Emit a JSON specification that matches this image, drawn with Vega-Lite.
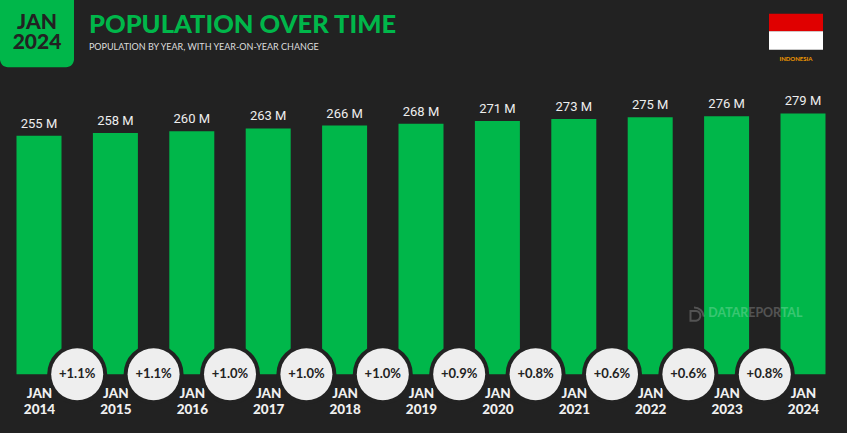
{"$schema":"https://vega.github.io/schema/vega-lite/v6.json","width":847,"height":375,"autosize":"none","padding":{"left":0,"top":0,"right":0,"bottom":58},"background":"#222222","config":{"view":{"stroke":null},"text":{"font":"Lato"}},
"datasets":{"pop":[
{"year":2014,"population":255,"label":"255 M","next":2014.5,"change":"+1.1%"},
{"year":2015,"population":258,"label":"258 M","next":2015.5,"change":"+1.1%"},
{"year":2016,"population":260,"label":"260 M","next":2016.5,"change":"+1.0%"},
{"year":2017,"population":263,"label":"263 M","next":2017.5,"change":"+1.0%"},
{"year":2018,"population":266,"label":"266 M","next":2018.5,"change":"+1.0%"},
{"year":2019,"population":268,"label":"268 M","next":2019.5,"change":"+0.9%"},
{"year":2020,"population":271,"label":"271 M","next":2020.5,"change":"+0.8%"},
{"year":2021,"population":273,"label":"273 M","next":2021.5,"change":"+0.6%"},
{"year":2022,"population":275,"label":"275 M","next":2022.5,"change":"+0.6%"},
{"year":2023,"population":276,"label":"276 M","next":2023.5,"change":"+0.8%"},
{"year":2024,"population":279,"label":"279 M"}]},
"layer":[
{"data":{"name":"pop"},"mark":{"type":"bar","size":45,"color":"#00B74A"},"encoding":{"x":{"field":"year","type":"quantitative","title":null,"scale":{"domain":[2013.4895,2024.576],"nice":false,"zero":false,"padding":0},"axis":{"values":[2014,2015,2016,2017,2018,2019,2020,2021,2022,2023,2024],"labelExpr":"['JAN', '' + datum.value]","labelFont":"Lato","labelFontWeight":900,"labelFontSize":13.5,"labelColor":"#f0f0f0","labelLineHeight":16,"labelPadding":11,"labelBaseline":"top","labelFlush":false,"labelOverlap":false,"domain":false,"ticks":false,"grid":false}},"y":{"field":"population","type":"quantitative","title":null,"scale":{"domain":[-0.75,400.3],"nice":false,"zero":false,"padding":0},"axis":null}}},
{"data":{"name":"pop"},"mark":{"type":"text","font":"Roboto","fontSize":13,"color":"#eeeeee","baseline":"bottom","dy":-5},"encoding":{"x":{"field":"year","type":"quantitative"},"y":{"field":"population","type":"quantitative"},"text":{"field":"label"}}},
{"data":{"name":"pop"},"transform":[{"filter":"datum.next"}],"mark":{"type":"point","filled":true,"color":"#222222","size":3600,"opacity":1},"encoding":{"x":{"field":"next","type":"quantitative"},"y":{"datum":0,"type":"quantitative"}}},
{"data":{"name":"pop"},"transform":[{"filter":"datum.next"}],"mark":{"type":"point","filled":true,"color":"#EEEEEE","size":2704,"opacity":1},"encoding":{"x":{"field":"next","type":"quantitative"},"y":{"datum":0,"type":"quantitative"}}},
{"data":{"name":"pop"},"transform":[{"filter":"datum.next"}],"mark":{"type":"text","fontSize":13,"fontWeight":"bold","color":"#222222"},"encoding":{"x":{"field":"next","type":"quantitative"},"y":{"datum":0,"type":"quantitative"},"text":{"field":"change"}}},
{"data":{"values":[{"x0":2013.4895,"x1":2014.458,"y0":328.3,"y1":425}]},"mark":{"type":"rect","color":"#00B74A","cornerRadius":8},"encoding":{"x":{"field":"x0","type":"quantitative"},"x2":{"field":"x1"},"y":{"field":"y0","type":"quantitative"},"y2":{"field":"y1"}}},
{"data":{"values":[{"x":2013.974,"y":369,"text":"JAN"},{"x":2013.974,"y":347.6,"text":"2024"}]},"mark":{"type":"text","fontSize":21,"fontWeight":900,"color":"#222222","baseline":"alphabetic"},"encoding":{"x":{"field":"x","type":"quantitative"},"y":{"field":"y","type":"quantitative"},"text":{"field":"text"}}},
{"data":{"values":[{"x":2014.654,"y":364.7,"text":"POPULATION OVER TIME"}]},"mark":{"type":"text","fontSize":25.5,"fontWeight":900,"color":"#00B74A","align":"left","baseline":"alphabetic"},"encoding":{"x":{"field":"x","type":"quantitative"},"y":{"field":"y","type":"quantitative"},"text":{"field":"text"}}},
{"data":{"values":[{"x":2014.654,"y":346.5,"text":"POPULATION BY YEAR, WITH YEAR-ON-YEAR CHANGE"}]},"mark":{"type":"text","fontSize":9,"color":"#dddddd","align":"left","baseline":"alphabetic"},"encoding":{"x":{"field":"x","type":"quantitative"},"y":{"field":"y","type":"quantitative"},"text":{"field":"text"}}},
{"data":{"values":[{"x0":2023.555,"x1":2024.262,"y0":385.6,"y1":366.9,"part":"#E00000"},{"x0":2023.555,"x1":2024.262,"y0":366.9,"y1":347,"part":"#FFFFFF"}]},"mark":{"type":"rect"},"encoding":{"x":{"field":"x0","type":"quantitative"},"x2":{"field":"x1"},"y":{"field":"y0","type":"quantitative"},"y2":{"field":"y1"},"color":{"field":"part","type":"nominal","scale":null}}},
{"data":{"values":[{"x":2023.908,"y":337,"text":"INDONESIA"}]},"mark":{"type":"text","fontSize":6,"fontWeight":"bold","color":"#F39A00"},"encoding":{"x":{"field":"x","type":"quantitative"},"y":{"field":"y","type":"quantitative"},"text":{"field":"text"}}},
{"data":{"values":[{"x":2022.76,"y":61,"text":"DATAREPORTAL"}]},"mark":{"type":"text","fontSize":12.4,"fontWeight":"bold","color":"#ffffff","opacity":0.22,"align":"left","baseline":"alphabetic"},"encoding":{"x":{"field":"x","type":"quantitative"},"y":{"field":"y","type":"quantitative"},"text":{"field":"text"}}},
{"data":{"values":[{"x":2022.61,"y":64}]},"mark":{"type":"point","shape":"M-0.9,-0.2 V0.9 H-0.1 A0.7,0.7 0 0 0 0.5,0.1 A0.7,0.7 0 0 0 -0.1,-0.5 H-0.9 Z M-0.4,-1 A1.4,1.4 0 0 1 1,0.3","filled":false,"strokeWidth":2,"size":196,"color":"#ffffff","opacity":0.22},"encoding":{"x":{"field":"x","type":"quantitative"},"y":{"field":"y","type":"quantitative"}}}
]}
